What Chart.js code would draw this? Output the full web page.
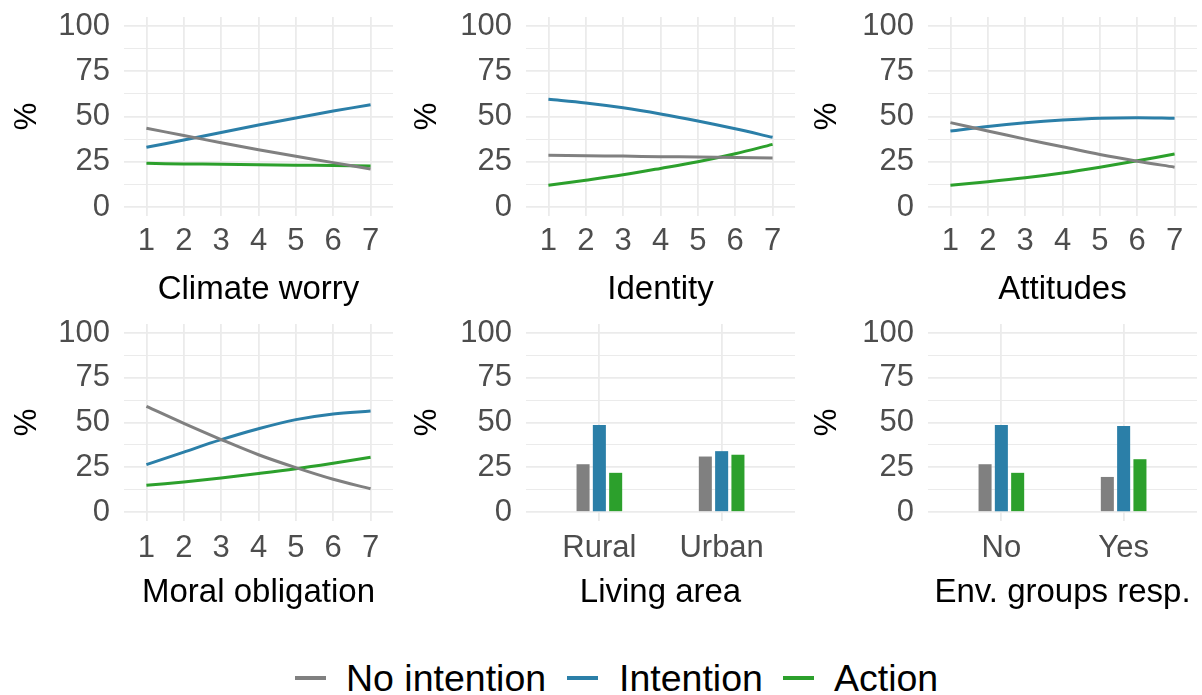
<!DOCTYPE html>
<html>
<head>
<meta charset="utf-8">
<script src="https://cdn.jsdelivr.net/npm/chart.js@4.4.1/dist/chart.umd.min.js"></script>
<style>
  body { margin: 0; background: #fff; font-family: "Liberation Sans", Arial, sans-serif; }
  #wrap { position: relative; width: 1202px; height: 695px; overflow: hidden; }
  .panel { position: absolute; }
  .key { position: absolute; top: 676px; width: 31px; height: 3.5px; }
  .lab { position: absolute; top: 659px; font-size: 37.5px; line-height: 38px; color: #000; white-space: nowrap; }
</style>
</head>
<body>
<div id="wrap">
  <div class="panel" style="left:0;top:0;width:400px;height:310px"><canvas id="c1"></canvas></div>
  <div class="panel" style="left:400px;top:0;width:400px;height:310px"><canvas id="c2"></canvas></div>
  <div class="panel" style="left:800px;top:0;width:402px;height:310px"><canvas id="c3"></canvas></div>
  <div class="panel" style="left:0;top:310px;width:400px;height:310px"><canvas id="c4"></canvas></div>
  <div class="panel" style="left:400px;top:310px;width:400px;height:310px"><canvas id="c5"></canvas></div>
  <div class="panel" style="left:800px;top:310px;width:402px;height:310px"><canvas id="c6"></canvas></div>

  <div class="key" style="left:295px;background:#808080"></div>
  <div class="lab" style="left:346px">No intention</div>
  <div class="key" style="left:567px;background:#2B7FA8"></div>
  <div class="lab" style="left:619px">Intention</div>
  <div class="key" style="left:783px;background:#2CA02C"></div>
  <div class="lab" style="left:834px">Action</div>
</div>
<script>
var seriesNames = ['No intention', 'Intention', 'Action'];
var seriesColors = ['#808080', '#2B7FA8', '#2CA02C'];
var scalePoints = [1, 2, 3, 4, 5, 6, 7];
var yTicks = [0, 12.5, 25, 37.5, 50, 62.5, 75, 87.5, 100];

// predicted % by predictor value
var worryNo = [43.5, 39.5, 35.5, 31.6, 28, 24.5, 21];
var worryInt = [33, 37, 41.2, 45.3, 49.2, 53, 56.5];
var worryAct = [24.1, 23.8, 23.6, 23.3, 23.1, 22.9, 22.6];

var identityNo = [28.6, 28.3, 28.1, 27.8, 27.6, 27.3, 27];
var identityInt = [59.5, 57.5, 54.8, 51.4, 47.5, 43.2, 38.5];
var identityAct = [12, 14.8, 17.8, 21.3, 25, 29.4, 34.6];

var attitudesNo = [46.6, 42, 37.5, 33.3, 29, 25.3, 22];
var attitudesInt = [42, 44.5, 46.5, 48, 49, 49.3, 49];
var attitudesAct = [12, 13.9, 16.1, 18.8, 22, 25.5, 29.3];

var moralNo = [59, 49.5, 40.5, 32, 24.8, 18.3, 13];
var moralInt = [26.5, 33.5, 40.4, 46.5, 51.6, 54.8, 56.4];
var moralAct = [14.9, 16.8, 19, 21.5, 24.2, 27.3, 30.6];

var areaCats = ['Rural', 'Urban'];
var areaNo = [26.7, 31];
var areaInt = [48.6, 34];
var areaAct = [21.9, 32];

var envCats = ['No', 'Yes'];
var envNo = [26.7, 19.6];
var envInt = [48.6, 48];
var envAct = [21.9, 29.5];

var rows = [
  { padTop: 17, xHeight: 94, tickPad: 7, titlePad: 0 },
  { padTop: 14, xHeight: 99, tickPad: 9, titlePad: 7 }
];

function makeChart(id, title, row, leftW, padRight, values, cats) {
  var isBar = !!cats;
  var xs = isBar ? [1, 2] : scalePoints;
  var datasets = values.map(function (arr, k) {
    return {
      label: seriesNames[k],
      data: xs.map(function (x, i) { return { x: x, y: arr[i] }; }),
      borderColor: seriesColors[k],
      backgroundColor: seriesColors[k],
      borderWidth: isBar ? 0 : 3,
      pointRadius: 0,
      tension: 0.35,
      barPercentage: 0.8,
      categoryPercentage: 0.4
    };
  });

  new Chart(document.getElementById(id), {
    type: isBar ? 'bar' : 'line',
    data: { datasets: datasets },
    options: {
      responsive: true,
      maintainAspectRatio: false,
      animation: false,
      layout: { padding: { top: row.padTop, right: padRight, left: 0, bottom: 0 } },
      plugins: { legend: { display: false }, tooltip: { enabled: false } },
      scales: {
        x: {
          type: 'linear',
          min: 0.4,
          max: isBar ? 2.6 : 7.6,
          offset: false,
          afterBuildTicks: function (s) { s.ticks = xs.map(function (v) { return { value: v }; }); },
          afterFit: function (s) { s.height = row.xHeight; },
          grid: { color: '#EBEBEB', lineWidth: 1.8, drawTicks: false, offset: false },
          border: { display: false },
          ticks: {
            autoSkip: false,
            maxRotation: 0,
            padding: row.tickPad,
            color: '#4D4D4D',
            font: { size: 31, family: '"Liberation Sans", Arial, sans-serif' },
            callback: function (v) { return isBar ? cats[v - 1] : v; }
          },
          title: {
            display: true,
            text: title,
            color: '#000',
            padding: { top: 0, bottom: row.titlePad },
            font: { size: 33, family: '"Liberation Sans", Arial, sans-serif' }
          }
        },
        y: {
          min: -5,
          max: 105,
          afterBuildTicks: function (s) { s.ticks = yTicks.map(function (v) { return { value: v }; }); },
          afterFit: function (s) { s.width = leftW; s.paddingTop = 0; s.paddingBottom = 0; },
          grid: {
            color: '#EBEBEB',
            drawTicks: false,
            lineWidth: function (c) { return c.tick && c.tick.value % 25 === 0 ? 1.8 : 1; }
          },
          border: { display: false },
          ticks: {
            autoSkip: false,
            padding: 14,
            color: '#4D4D4D',
            font: { size: 31, family: '"Liberation Sans", Arial, sans-serif' },
            callback: function (v) { return v % 25 === 0 ? v : ''; }
          },
          title: {
            display: true,
            text: '%',
            color: '#000',
            padding: { top: 9, bottom: 0 },
            font: { size: 31, family: '"Liberation Sans", Arial, sans-serif' }
          }
        }
      }
    }
  });
}

makeChart('c1', 'Climate worry', rows[0], 124, 7, [worryNo, worryInt, worryAct]);
makeChart('c2', 'Identity', rows[0], 126, 5, [identityNo, identityInt, identityAct]);
makeChart('c3', 'Attitudes', rows[0], 128, 5, [attitudesNo, attitudesInt, attitudesAct]);
makeChart('c4', 'Moral obligation', rows[1], 124, 7, [moralNo, moralInt, moralAct]);
makeChart('c5', 'Living area', rows[1], 126, 5, [areaNo, areaInt, areaAct], areaCats);
makeChart('c6', 'Env. groups resp.', rows[1], 128, 5, [envNo, envInt, envAct], envCats);
</script>
</body>
</html>
